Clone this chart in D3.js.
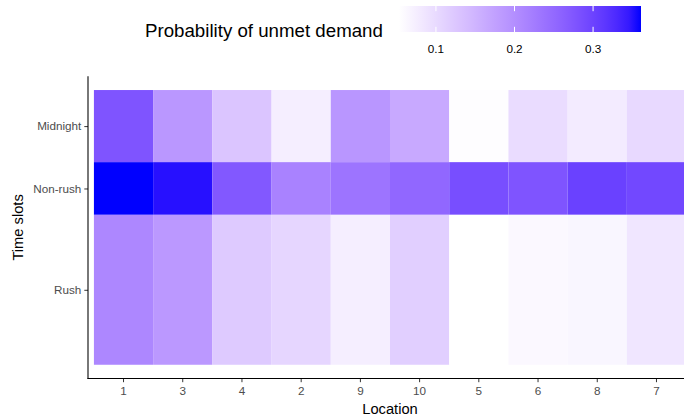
<!DOCTYPE html>
<html>
<head>
<meta charset="utf-8">
<script src="https://cdn.jsdelivr.net/npm/d3@7"></script>
<style>
  html, body { margin: 0; padding: 0; background: #fff; }
  svg { display: block; font-family: "Liberation Sans", Arial, sans-serif; }
</style>
</head>
<body>
<svg id="chart" width="684" height="418"></svg>
<script>
// Locations in display order along the x axis
const locations = ["1", "3", "4", "2", "9", "10", "5", "6", "8", "7"];

// Time slots and the span (hours) each one covers on the y axis
const timeSlots = ["Midnight", "Non-rush", "Rush"];
const slotStart = [0, 6.3, 10.9];
const slotEnd = [6.3, 10.9, 24];

// Probability of unmet demand, one value per location, per time slot
const midnight = [0.278, 0.189, 0.128, 0.075, 0.190, 0.164, 0.055, 0.098, 0.079, 0.102];
const nonRush  = [0.361, 0.352, 0.273, 0.216, 0.235, 0.253, 0.286, 0.278, 0.302, 0.293];
const rush     = [0.210, 0.187, 0.121, 0.105, 0.075, 0.115, 0.053, 0.062, 0.065, 0.085];

// Colour bar breaks
const legendTicks = [0.1, 0.2, 0.3];

const seriesBySlot = [midnight, nonRush, rush];
const cells = [];
timeSlots.forEach((slot, si) => {
  locations.forEach((loc, li) => {
    cells.push({ slot, loc, y0: slotStart[si], y1: slotEnd[si], value: seriesBySlot[si][li] });
  });
});

const svg = d3.select("#chart");

// Panel geometry
const panel = { left: 88, right: 692, top: 76.3, bottom: 378.5 };

const x = d3.scaleBand()
  .domain(locations)
  .range([panel.left, panel.right])
  .paddingInner(0)
  .paddingOuter(0.1);

const yMin = d3.min(slotStart), yMax = d3.max(slotEnd);
const yPad = (yMax - yMin) * 0.05;
const y = d3.scaleLinear()
  .domain([yMin - yPad, yMax + yPad])
  .range([panel.top, panel.bottom]);

const extent = d3.extent(cells, d => d.value);
const color = d3.scaleLinear()
  .domain(extent)
  .range(["white", "blue"])
  .interpolate(d3.interpolateLab);

// Tiles
svg.append("g")
  .selectAll("rect")
  .data(cells)
  .join("rect")
  .attr("x", d => x(d.loc))
  .attr("width", x.bandwidth())
  .attr("y", d => y(d.y0))
  .attr("height", d => y(d.y1) - y(d.y0))
  .attr("fill", d => color(d.value));

// Axes
const tickColor = "#333333";
const labelColor = "#4d4d4d";

const xAxis = svg.append("g")
  .attr("transform", `translate(0,${panel.bottom})`)
  .call(d3.axisBottom(x).tickSize(3.7).tickPadding(4));
xAxis.select(".domain").remove();
xAxis.selectAll(".tick line").attr("stroke", tickColor).attr("stroke-width", 1);
xAxis.selectAll(".tick text")
  .attr("fill", labelColor)
  .attr("font-size", "11.7px")
  .attr("font-family", "Liberation Sans, Arial, sans-serif");

const slotMid = timeSlots.map((s, i) => (slotStart[i] + slotEnd[i]) / 2);
const yAxis = svg.append("g")
  .attr("transform", `translate(${panel.left},0)`)
  .call(d3.axisLeft(y)
    .tickValues(slotMid)
    .tickFormat((d, i) => timeSlots[i])
    .tickSize(3.7)
    .tickPadding(3));
yAxis.select(".domain").remove();
yAxis.selectAll(".tick line").attr("stroke", tickColor).attr("stroke-width", 1);
yAxis.selectAll(".tick text")
  .attr("fill", labelColor)
  .attr("font-size", "11.7px")
  .attr("font-family", "Liberation Sans, Arial, sans-serif");

// Axis lines (classic theme)
svg.append("line")
  .attr("x1", panel.left).attr("x2", panel.left)
  .attr("y1", panel.top).attr("y2", panel.bottom + 0.5)
  .attr("stroke", "#000").attr("stroke-width", 1.07);
svg.append("line")
  .attr("x1", panel.left - 0.5).attr("x2", panel.right)
  .attr("y1", panel.bottom).attr("y2", panel.bottom)
  .attr("stroke", "#000").attr("stroke-width", 1.07);

// Axis titles
svg.append("text")
  .attr("x", (panel.left + panel.right) / 2)
  .attr("y", 414)
  .attr("text-anchor", "middle")
  .attr("font-size", "14.7px")
  .attr("fill", "#000")
  .text("Location");

svg.append("text")
  .attr("transform", `translate(23,${(panel.top + panel.bottom) / 2}) rotate(-90)`)
  .attr("text-anchor", "middle")
  .attr("font-size", "14.7px")
  .attr("fill", "#000")
  .text("Time slots");

// Colour bar legend
const bar = { left: 399, right: 641, top: 6, bottom: 32 };
const lx = d3.scaleLinear().domain(extent).range([bar.left, bar.right]);

const defs = svg.append("defs");
const grad = defs.append("linearGradient")
  .attr("id", "fillGradient")
  .attr("x1", "0%").attr("x2", "100%").attr("y1", "0%").attr("y2", "0%");
d3.range(0, 1.0001, 0.05).forEach(t => {
  grad.append("stop")
    .attr("offset", `${t * 100}%`)
    .attr("stop-color", color(extent[0] + t * (extent[1] - extent[0])));
});

const legend = svg.append("g");
legend.append("rect")
  .attr("x", bar.left)
  .attr("y", bar.top)
  .attr("width", bar.right - bar.left)
  .attr("height", bar.bottom - bar.top)
  .attr("fill", "url(#fillGradient)");

legendTicks.forEach(v => {
  const px = lx(v);
  legend.append("line")
    .attr("x1", px).attr("x2", px)
    .attr("y1", bar.top).attr("y2", bar.top + 5.2)
    .attr("stroke", "#fff").attr("stroke-width", 1);
  legend.append("line")
    .attr("x1", px).attr("x2", px)
    .attr("y1", bar.bottom - 5.2).attr("y2", bar.bottom)
    .attr("stroke", "#fff").attr("stroke-width", 1);
  legend.append("text")
    .attr("x", px)
    .attr("y", 52.5)
    .attr("text-anchor", "middle")
    .attr("font-size", "11.7px")
    .attr("fill", "#000")
    .text(d3.format(".1f")(v));
});

legend.append("text")
  .attr("x", 145)
  .attr("y", 37)
  .attr("font-size", "18.7px")
  .attr("fill", "#000")
  .text("Probability of unmet demand");
</script>
</body>
</html>
